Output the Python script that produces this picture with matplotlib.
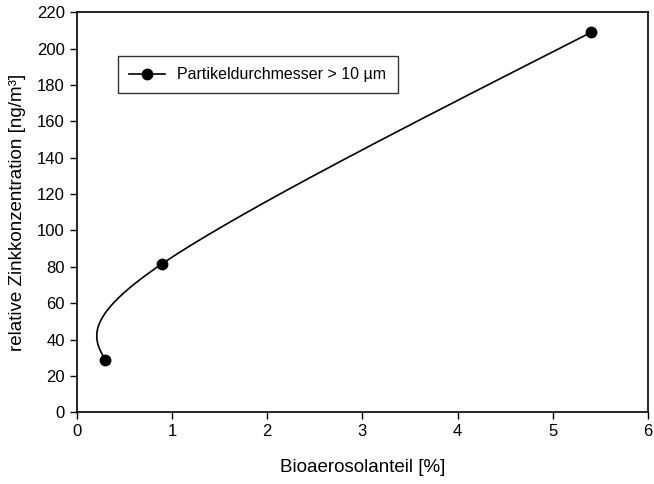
import numpy as np
import matplotlib
matplotlib.use("Agg")
import matplotlib.pyplot as plt
from matplotlib.lines import Line2D

plt.rcParams['font.family'] = ['Liberation Sans', 'DejaVu Sans']

# data
bio_percent = [0.3, 0.9, 5.4]
zinc_conc = [28.8, 81.8, 208.9]
series_label = "Partikeldurchmesser > 10 µm"
x_ticks = [0, 1, 2, 3, 4, 5, 6]
y_ticks = [0, 20, 40, 60, 80, 100, 120, 140, 160, 180, 200, 220]


def natural_spline_param(xs, ys, n=400):
    """Parametric natural cubic spline through the points (uniform parameter)."""
    xs = np.asarray(xs, float)
    ys = np.asarray(ys, float)
    t = np.arange(len(xs), dtype=float)

    def spline(v):
        m = len(t)
        h = np.diff(t)
        A = np.zeros((m, m))
        b = np.zeros(m)
        A[0, 0] = 1
        A[-1, -1] = 1
        for i in range(1, m - 1):
            A[i, i - 1] = h[i - 1]
            A[i, i] = 2 * (h[i - 1] + h[i])
            A[i, i + 1] = h[i]
            b[i] = 6 * ((v[i + 1] - v[i]) / h[i] - (v[i] - v[i - 1]) / h[i - 1])
        M = np.linalg.solve(A, b)
        tt = np.linspace(t[0], t[-1], n)
        out = np.empty_like(tt)
        for k, s in enumerate(tt):
            i = min(np.searchsorted(t, s, side='right') - 1, m - 2)
            hi = h[i]
            a = (t[i + 1] - s) / hi
            bb = (s - t[i]) / hi
            out[k] = (a * v[i] + bb * v[i + 1]
                      + ((a ** 3 - a) * M[i] + (bb ** 3 - bb) * M[i + 1]) * hi ** 2 / 6)
        return out

    return spline(xs), spline(ys)


fig = plt.figure(figsize=(6.54, 4.84), dpi=100)
ax = fig.add_axes([76.7 / 654, 1 - 412.3 / 484, (648 - 76.7) / 654, 400 / 484])

cx, cy = natural_spline_param(bio_percent, zinc_conc)
ax.plot(cx, cy, color='black', lw=1.2)
ax.plot(bio_percent, zinc_conc, 'o', color='black', ms=7.5)

ax.set_xlim(0, 6)
ax.set_ylim(0, 220)
ax.set_xticks(x_ticks)
ax.set_yticks(y_ticks)
ax.tick_params(direction='out', length=5, width=1, labelsize=12, colors='black')
for s in ax.spines.values():
    s.set_linewidth(1.2)

ax.set_xlabel("Bioaerosolanteil [%]", fontsize=13.5, labelpad=14)
ax.set_ylabel("relative Zinkkonzentration [ng/m³]", fontsize=13.5, labelpad=8)

handle = Line2D([], [], color='black', marker='o', ms=7.5, lw=1.2)
leg = ax.legend([handle], [series_label], loc='upper left',
                bbox_to_anchor=((118.3 - 76.7) / 571.3, (412.3 - 56) / 400),
                fontsize=11.5, frameon=True, fancybox=False, edgecolor='black',
                borderpad=0.7, handlelength=2.2, handletextpad=0.8, borderaxespad=0)
leg.get_frame().set_linewidth(1.0)

fig.savefig("out.png", dpi=100)
